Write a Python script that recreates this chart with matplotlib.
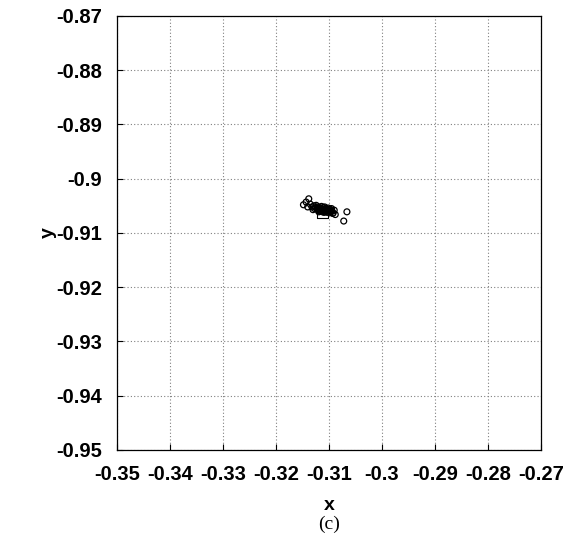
import numpy as np
import matplotlib.pyplot as plt

# particle positions
px = [-0.3148, -0.3143, -0.3138, -0.3135, -0.3140, -0.3132, -0.3128, -0.3130,
      -0.3125, -0.3122, -0.3120, -0.3118, -0.3115, -0.3112, -0.3110, -0.3108,
      -0.3105, -0.3102, -0.3100, -0.3098, -0.3096, -0.3094, -0.3120, -0.3116,
      -0.3112, -0.3106, -0.3103, -0.3099, -0.3092, -0.3090, -0.3088, -0.3124,
      -0.3114, -0.3108, -0.3101, -0.3095, -0.3127, -0.3121, -0.3117, -0.3111,
      -0.3107, -0.3104, -0.3097, -0.3093, -0.3119, -0.3113, -0.3109, -0.3105,
      -0.3066, -0.3072]
py = [-0.9048, -0.9043, -0.9037, -0.9047, -0.9052, -0.9052, -0.9050, -0.9057,
      -0.9053, -0.9056, -0.9052, -0.9055, -0.9054, -0.9057, -0.9053, -0.9056,
      -0.9055, -0.9058, -0.9056, -0.9059, -0.9057, -0.9060, -0.9058, -0.9060,
      -0.9061, -0.9060, -0.9062, -0.9061, -0.9063, -0.9058, -0.9066, -0.9049,
      -0.9051, -0.9052, -0.9054, -0.9055, -0.9055, -0.9054, -0.9058, -0.9059,
      -0.9058, -0.9057, -0.9062, -0.9064, -0.9061, -0.9056, -0.9062, -0.9059,
      -0.9061, -0.9078]
mean_x = [-0.3112]
mean_y = [-0.9063]

xticks = [-0.35, -0.34, -0.33, -0.32, -0.31, -0.3, -0.29, -0.28, -0.27]
xlabels = ['-0.35', '-0.34', '-0.33', '-0.32', '-0.31', '-0.3', '-0.29', '-0.28', '-0.27']
yticks = [-0.95, -0.94, -0.93, -0.92, -0.91, -0.9, -0.89, -0.88, -0.87]
ylabels = ['-0.95', '-0.94', '-0.93', '-0.92', '-0.91', '-0.9', '-0.89', '-0.88', '-0.87']

fig = plt.figure(figsize=(5.76, 5.38), dpi=100)
ax = fig.add_axes([0.203, 0.1636, 0.736, 0.8067])

ax.scatter(px, py, s=18, facecolors='none', edgecolors='black', linewidths=0.9, zorder=3)
ax.scatter(mean_x, mean_y, s=60, marker='s', facecolors='none', edgecolors='black', linewidths=0.8, zorder=4)

ax.set_xlim(-0.35, -0.27)
ax.set_ylim(-0.95, -0.87)
ax.set_xticks(xticks)
ax.set_xticklabels(xlabels)
ax.set_yticks(yticks)
ax.set_yticklabels(ylabels)
for lab in ax.get_xticklabels() + ax.get_yticklabels():
    lab.set_fontfamily('Liberation Sans')
    lab.set_fontweight('bold')
    lab.set_fontsize(14.5)
ax.tick_params(direction='in', length=4, width=0.8, pad=11)
ax.grid(True, color='gray', linestyle=(0, (1, 2)), linewidth=0.8)
for s in ax.spines.values():
    s.set_linewidth(0.9)

ax.set_xlabel('x', fontfamily='Liberation Sans', fontweight='bold', fontsize=14, labelpad=9.5)
ax.set_ylabel('y', fontfamily='Liberation Sans', fontweight='bold', fontsize=14, labelpad=-1)
fig.text(0.571, 0.017, '(c)', fontfamily='Liberation Serif', fontsize=14, ha='center')

fig.savefig('out.png', dpi=100)
